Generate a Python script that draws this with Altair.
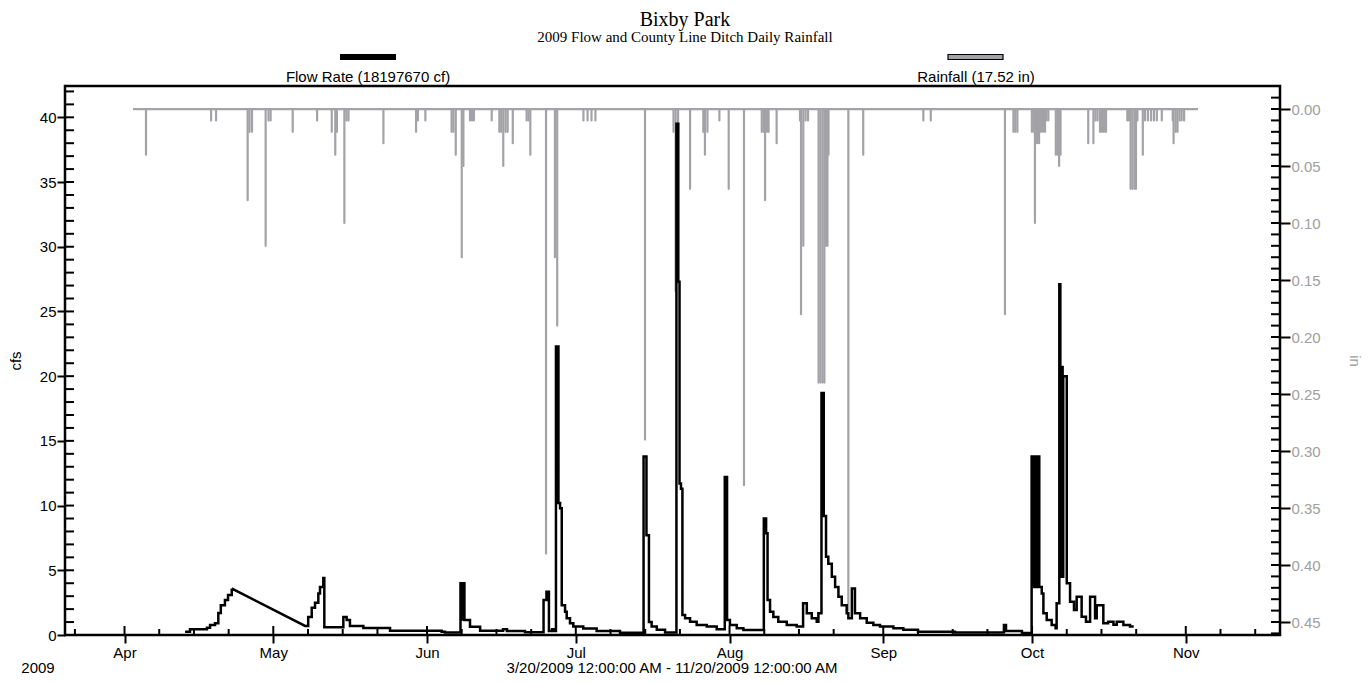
import altair as alt
import pandas as pd

SANS = "Liberation Sans, Arial, Helvetica, sans-serif"
SERIF = "Liberation Serif, Times New Roman, serif"
GRAY = "#a3a3a7"
LABEL_GRAY = "#a0a0a0"

TITLE = "Bixby Park"
SUBTITLE = "2009 Flow and County Line Ditch Daily Rainfall"
FLOW_LABEL = "Flow Rate (18197670 cf)"
RAIN_LABEL = "Rainfall (17.52 in)"
YEAR_LABEL = "2009"
RANGE_LABEL = "3/20/2009 12:00:00 AM - 11/20/2009 12:00:00 AM"
LEFT_TITLE = "cfs"
RIGHT_TITLE = "in"

# ---- flow rate (cfs), step series: value holds until next time ----
flow_times = [
    "04-13 05", "04-14 05", "04-17 15", "04-18 06", "04-19 06", "04-19 22", "04-20 10",
    "04-21 06", "04-21 21", "04-22 15", "04-22 23",
    "05-07 10", "05-08 01", "05-08 18", "05-09 10", "05-10 02", "05-10 10", "05-11 02",
    "05-11 07", "05-15 03", "05-15 19", "05-16 11", "05-19 04", "05-24 13",
    "06-03 23", "06-04 15", "06-07 18", "06-07 22", "06-08 02", "06-08 06", "06-08 10",
    "06-08 13", "06-09 16", "06-11 17", "06-16 08", "06-17 03", "06-20 18",
    "06-24 12", "06-25 02", "06-25 14", "06-26 05", "06-26 15", "06-27 00", "06-27 12",
    "06-27 20", "06-28 04", "06-28 20", "06-29 04", "06-29 20", "06-30 12",
    "07-02 12", "07-05 05", "07-09 22", "07-14 16", "07-15 06", "07-15 18", "07-16 07",
    "07-17 08", "07-19 00", "07-21 07", "07-21 16", "07-21 22", "07-22 05", "07-22 12",
    "07-23 01", "07-24 01", "07-25 09", "07-27 10", "07-29 10", "07-31 01", "07-31 12",
    "08-01 02", "08-02 11", "08-03 19", "08-07 22", "08-08 09", "08-08 16", "08-09 04",
    "08-09 20", "08-10 20", "08-12 13", "08-14 13", "08-15 20", "08-16 14", "08-17 14",
    "08-18 14", "08-18 22", "08-19 13", "08-20 00", "08-20 11", "08-20 22", "08-21 15",
    "08-22 07", "08-22 23", "08-23 15", "08-24 15", "08-24 23", "08-25 16", "08-26 07",
    "08-27 08", "08-28 16", "08-30 00", "08-31 08",
    "09-03 01", "09-05 01", "09-08 00", "09-15 11", "09-25 08", "09-25 18", "09-28 23",
    "09-30 22", "10-01 04", "10-01 08", "10-01 14", "10-01 18", "10-02 00", "10-02 04",
    "10-02 11", "10-02 23", "10-03 07", "10-03 23", "10-04 23", "10-05 18", "10-05 23",
    "10-06 12", "10-06 17", "10-06 21", "10-07 00", "10-07 04", "10-07 07",
    "10-08 00", "10-08 16", "10-09 11", "10-10 00", "10-11 00", "10-11 21", "10-12 17",
    "10-13 17", "10-14 01", "10-15 09", "10-16 08", "10-17 10", "10-18 02", "10-19 10",
    "10-20 18",
]
flow_values = [
    0.26, 0.44, 0.56, 0.77, 0.90, 1.70, 2.30,
    2.70, 3.10, 3.50, 3.53,
    0.70, 1.40, 2.10, 2.50, 3.20, 3.70, 4.40,
    0.60, 1.40, 1.15, 0.70, 0.54, 0.33,
    0.26, 0.20, 4.00, 1.20, 4.00, 1.20, 4.00,
    1.16, 0.64, 0.33, 0.44, 0.30, 0.22,
    2.70, 3.35, 0.30, 0.45, 0.30, 22.3, 10.2,
    9.8, 2.3, 1.8, 1.3, 0.9, 0.65,
    0.50, 0.30, 0.18, 13.8, 7.7, 1.0, 0.65,
    0.40, 0.20, 39.5, 27.3, 11.7, 11.3, 1.55,
    1.30, 1.03, 0.77, 0.65, 0.44, 12.2, 1.16,
    0.77, 0.52, 0.39, 9.0, 7.86, 2.7, 1.8,
    1.4, 1.03, 0.77, 0.65, 2.45, 1.68, 1.29,
    1.03, 1.68, 18.7, 9.2, 6.05, 5.5, 4.5,
    3.7, 2.96, 2.3, 1.68, 1.29, 3.6, 1.68,
    1.29, 0.95, 0.77, 0.65,
    0.52, 0.40, 0.25, 0.20, 0.77, 0.30, 0.15,
    13.8, 3.7, 13.8, 3.7, 13.8, 3.7, 13.8,
    3.7, 3.2, 1.68, 1.16, 0.77, 0.52, 2.45,
    27.1, 20.7, 4.5, 20.7, 4.5, 20.0,
    4.0, 2.57, 1.93, 2.96, 1.41, 1.03, 2.96,
    1.29, 2.3, 0.9, 1.03, 0.8, 1.03, 0.77,
    0.65,
]
flow_end = ["10-21 12", 0.65]
flow_gap_after = ["04-22 23"]  # missing data: joined by a straight line

# ---- rainfall (in) ----
rain_times = [
    "04-05 08", "04-18 11", "04-19 11", "04-25 20", "04-26 05", "04-26 17", "04-29 11",
    "04-30 01", "04-30 11", "05-04 22", "05-09 20", "05-12 19", "05-13 12", "05-13 20",
    "05-15 08", "05-15 18", "05-16 04", "05-23 05", "05-29 19", "05-30 04", "05-31 16",
    "06-05 23", "06-06 08", "06-06 19", "06-08 00", "06-08 08", "06-09 16", "06-10 02",
    "06-10 11", "06-14 01", "06-15 14", "06-15 23", "06-16 09", "06-16 20", "06-17 06",
    "06-18 07", "06-21 02", "06-21 11", "06-21 20", "06-25 00", "06-26 19", "06-27 06",
    "07-02 13", "07-03 09", "07-04 04", "07-04 23", "07-14 23", "07-20 17", "07-21 03",
    "07-21 15", "07-24 01", "07-26 17", "07-27 01", "07-27 13", "07-29 23", "07-31 20",
    "08-03 22", "08-07 12", "08-07 21", "08-08 04", "08-08 13", "08-08 21", "08-10 12",
    "08-15 05", "08-15 10", "08-15 21", "08-16 08", "08-16 20", "08-18 23", "08-19 08",
    "08-19 18", "08-20 03", "08-20 11", "08-20 18", "08-20 23", "08-24 23", "08-27 23",
    "09-09 02", "09-10 14", "09-25 13", "09-27 06", "09-27 15", "09-28 01", "09-30 23",
    "10-01 07", "10-01 14", "10-02 00", "10-02 10", "10-02 19", "10-03 05", "10-03 15",
    "10-03 22", "10-04 07", "10-05 19", "10-06 03", "10-06 11", "10-06 18", "10-12 08",
    "10-13 09", "10-13 19", "10-14 05", "10-14 17", "10-15 03", "10-15 12", "10-15 22",
    "10-20 05", "10-20 13", "10-20 21", "10-21 06", "10-21 16", "10-21 23", "10-22 06",
    "10-23 08", "10-23 19", "10-24 09", "10-25 00", "10-25 14", "10-26 04", "10-27 04",
    "10-29 09", "10-29 13", "10-29 23", "10-30 08", "10-30 18", "10-31 04", "10-31 16",
]
rain_values = [
    0.04, 0.01, 0.01, 0.08, 0.02, 0.02, 0.12,
    0.01, 0.01, 0.02, 0.01, 0.02, 0.04, 0.02,
    0.10, 0.01, 0.01, 0.03, 0.02, 0.01, 0.01,
    0.02, 0.02, 0.04, 0.13, 0.05, 0.01, 0.01,
    0.01, 0.01, 0.02, 0.02, 0.05, 0.02, 0.02,
    0.03, 0.01, 0.01, 0.04, 0.39, 0.13, 0.19,
    0.01, 0.01, 0.01, 0.01, 0.29, 0.02, 0.16,
    0.02, 0.07, 0.02, 0.04, 0.02, 0.01, 0.07,
    0.33, 0.02, 0.02, 0.08, 0.02, 0.02, 0.03,
    0.01, 0.18, 0.12, 0.01, 0.01, 0.24, 0.24,
    0.24, 0.24, 0.12, 0.12, 0.04, 0.44, 0.04,
    0.01, 0.01, 0.18, 0.02, 0.02, 0.02, 0.02,
    0.02, 0.10, 0.03, 0.03, 0.02, 0.02, 0.02,
    0.01, 0.01, 0.04, 0.04, 0.05, 0.04, 0.03,
    0.03, 0.01, 0.01, 0.02, 0.02, 0.02, 0.02,
    0.01, 0.01, 0.07, 0.07, 0.07, 0.07, 0.01,
    0.04, 0.01, 0.01, 0.01, 0.01, 0.01, 0.01,
    0.01, 0.03, 0.02, 0.02, 0.01, 0.01, 0.01,
]
rain_span = ["04-02 17", "11-03 11"]

# ---- axes ----
month_ticks = [4, 5, 6, 7, 8, 9, 10, 11]
minor_days = [8, 15, 22]
flow_ticks = list(range(0, 41, 5))
rain_ticks = [0.00, 0.05, 0.10, 0.15, 0.20, 0.25, 0.30, 0.35, 0.40, 0.45]

W, H = 1215, 549
PAD = {"left": 57, "top": 78, "right": 84, "bottom": 40}
FLOW_DOMAIN = [0, 42.42]
RAIN_DOMAIN = [-0.0202, 0.4614]


def iso(s):
    md, hh = s.split(" ")
    return f"2009-{md}T{hh}:00:00"


# step expansion
gap = set(flow_gap_after)
all_t = flow_times + [flow_end[0]]
all_v = flow_values + [flow_end[1]]
rows = []
for i, (t, v) in enumerate(zip(all_t, all_v)):
    rows.append({"t": iso(t), "v": v})
    if i + 1 < len(all_t) and t not in gap:
        rows.append({"t": iso(all_t[i + 1]), "v": v})
flow_df = pd.DataFrame(rows)
flow_df["k"] = range(len(flow_df))

rain_df = pd.DataFrame({"t": [iso(s) for s in rain_times], "v": rain_values})
rain_df["z"] = 0.0
span_df = pd.DataFrame({"t": [iso(rain_span[0])], "t2": [iso(rain_span[1])], "z": [0.0]})

major_df = pd.DataFrame({"t": [f"2009-{m:02d}-01T00:00:00" for m in month_ticks]})
minor_list = ["2009-03-22T00:00:00"] + [
    f"2009-{m:02d}-{d:02d}T00:00:00" for m in month_ticks for d in minor_days if not (m == 11 and d > 20)
]
minor_df = pd.DataFrame({"t": minor_list})
lt_df = pd.DataFrame({"v": list(range(0, 43))})
rt_df = pd.DataFrame({"v": [round(-0.01 + 0.01 * i, 2) for i in range(48)]})

xs = alt.Scale(domain=[alt.DateTime(year=2009, month=3, date=20),
                       alt.DateTime(year=2009, month=11, date=20)])
ys_flow = alt.Scale(domain=FLOW_DOMAIN, nice=False, zero=False)
ys_rain = alt.Scale(domain=RAIN_DOMAIN, nice=False, zero=False, reverse=True)

x_axis = alt.Axis(values=[alt.DateTime(year=2009, month=m, date=1) for m in month_ticks],
                  format="%b", tickSize=8, tickWidth=2, tickColor="black", domain=False,
                  grid=False, labelFont=SANS, labelFontSize=15, labelColor="black",
                  labelPadding=2, title=None, labelFlush=False)
left_axis = alt.Axis(orient="left", values=flow_ticks, tickSize=8, tickWidth=2, tickColor="black",
                     domain=False, grid=False, labelFont=SANS, labelFontSize=15, labelColor="black",
                     labelPadding=1, title=LEFT_TITLE, titleFont=SANS, titleFontSize=15,
                     titleFontWeight="normal", titleColor="black", titleX=-50, titleY=H / 2,
                     titleAngle=-90, titleBaseline="middle", titleAlign="center")
right_axis = alt.Axis(orient="right", values=rain_ticks, format=".2f", tickSize=10, tickWidth=2,
                      tickColor="black", domain=False, grid=False, labelFont=SANS, labelFontSize=15,
                      labelColor=LABEL_GRAY, labelPadding=1, title=RIGHT_TITLE, titleFont=SANS,
                      titleFontSize=15, titleFontWeight="normal", titleColor=LABEL_GRAY,
                      titleX=74, titleY=H / 2, titleAngle=90, titleBaseline="middle",
                      titleAlign="center")


def X(field):
    return alt.X(field, scale=xs, axis=x_axis)


def YF(field):
    return alt.Y(field, scale=ys_flow, axis=left_axis)


def YR(field):
    return alt.Y(field, scale=ys_rain, axis=right_axis)


# ---- rain layer ----
rain_base = alt.Chart(span_df).mark_rule(color=GRAY, strokeWidth=2.2).encode(
    x=X("t:T"), x2="t2:T", y=YR("z:Q"))
rain_bars = alt.Chart(rain_df).mark_rule(color=GRAY, strokeWidth=2.2, strokeCap="round").encode(
    x=X("t:T"), y=YR("v:Q"), y2="z:Q")
rain_inticks = alt.Chart(rt_df).mark_rule(color="black", strokeWidth=2).encode(
    y=YR("v:Q"), x=alt.value(W - 9), x2=alt.value(W))
rain_layer = alt.layer(rain_base, rain_bars, rain_inticks)

# ---- flow layer ----
x_major = alt.Chart(major_df).mark_rule(color="black", strokeWidth=2).encode(
    x=X("t:T"), y=alt.value(H), y2=alt.value(H - 9))
x_minor = alt.Chart(minor_df).mark_rule(color="black", strokeWidth=2).encode(
    x=X("t:T"), y=alt.value(H), y2=alt.value(H - 6))
flow_inticks = alt.Chart(lt_df).mark_rule(color="black", strokeWidth=2).encode(
    y=YF("v:Q"), x=alt.value(0), x2=alt.value(9))
flow_line = alt.Chart(flow_df).mark_line(color="black", strokeWidth=2.5, interpolate="linear").encode(
    x=X("t:T"), y=YF("v:Q"), order="k:Q")


def text(s, x, y, size, font=SANS, align="center", baseline="middle"):
    return alt.Chart(pd.DataFrame({"s": [s]})).mark_text(
        font=font, fontSize=size, align=align, baseline=baseline, color="black").encode(
        text="s:N", x=alt.value(x), y=alt.value(y))


title_t = text(TITLE, 620, -66.5, 20, SERIF)
sub_t = text(SUBTITLE, 620, -49.5, 15, SERIF)
flow_sw = alt.Chart(pd.DataFrame({"s": [FLOW_LABEL]})).mark_rect(color="black").encode(
    x=alt.value(275), x2=alt.value(331), y=alt.value(-32), y2=alt.value(-26))
rain_sw = alt.Chart(pd.DataFrame({"s": [RAIN_LABEL]})).mark_rect(
    fill=GRAY, stroke="black", strokeWidth=1.2).encode(
    x=alt.value(883), x2=alt.value(938), y=alt.value(-31.5), y2=alt.value(-26.5))
flow_lab = text(FLOW_LABEL, 303, -9, 15)
rain_lab = text(RAIN_LABEL, 911, -9, 15)
year_t = text(YEAR_LABEL, -27, H + 33, 15)
range_t = text(RANGE_LABEL, 607, H + 33, 15)

flow_layer = alt.layer(x_major, x_minor, flow_inticks, flow_line,
                       title_t, sub_t, flow_sw, rain_sw, flow_lab, rain_lab, year_t, range_t)

chart = alt.layer(rain_layer, flow_layer).resolve_scale(y="independent").properties(
    width=W, height=H,
    padding=PAD,
    autosize=alt.AutoSizeParams(type="none"),
    background="white",
).configure_view(stroke="black", strokeWidth=2.5)

chart.save("out.html", embed_options={"renderer": "svg", "actions": False})
